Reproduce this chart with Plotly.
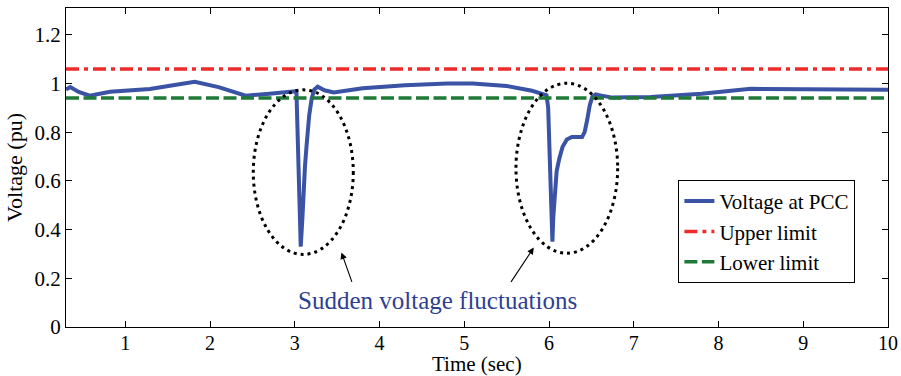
import plotly.graph_objects as go

# Time axis (sec) and voltage at PCC (pu)
time_s = [0.3, 0.35, 0.45, 0.58, 0.82, 1.29, 1.6, 1.82, 2.1, 2.42, 2.7, 3.0, 3.02, 3.04, 3.06, 3.07,
          3.09, 3.1, 3.12, 3.14, 3.17, 3.2, 3.23, 3.27, 3.35, 3.46, 3.8, 4.3, 4.8, 5.1, 5.5, 5.8, 5.97,
          5.99, 6.01, 6.03, 6.04, 6.05, 6.07, 6.09, 6.12, 6.16, 6.21, 6.27, 6.39, 6.42, 6.45, 6.48,
          6.51, 6.55, 6.62, 6.75, 7.2, 7.8, 8.38, 8.93, 8.96, 10.0]
voltage_pu = [0.975, 0.985, 0.965, 0.95, 0.966, 0.977, 0.995, 1.007, 0.985, 0.95, 0.958, 0.968, 0.96, 0.70, 0.42, 0.33,
              0.45, 0.54, 0.66, 0.75, 0.87, 0.94, 0.975, 0.987, 0.972, 0.963, 0.98, 0.993, 1.0, 1.0, 0.99, 0.97, 0.952,
              0.90, 0.65, 0.42, 0.35, 0.45, 0.57, 0.64, 0.69, 0.74, 0.77, 0.78, 0.78, 0.80, 0.85, 0.91,
              0.945, 0.955, 0.95, 0.942, 0.945, 0.958, 0.978, 0.978, 0.974, 0.974]

limit_x = [0.3, 10.0]
upper_limit = [1.06, 1.06]
lower_limit = [0.94, 0.94]

x_ticks = [1, 2, 3, 4, 5, 6, 7, 8, 9, 10]
y_ticks = [0, 0.2, 0.4, 0.6, 0.8, 1.0, 1.2]
y_tick_labels = ["0", "0.2", "0.4", "0.6", "0.8", "1", "1.2"]

# Ellipses marking the fluctuations (centre x, centre y, half-width, half-height)
ellipses = [(3.10, 0.636, 0.59, 0.338), (6.21, 0.652, 0.60, 0.349)]
annotation_text = "Sudden voltage fluctuations"
x_title = "Time (sec)"

FONT = "Liberation Serif, Times New Roman, serif"

fig = go.Figure()
fig.add_trace(go.Scatter(x=time_s, y=voltage_pu, mode="lines", name="Voltage at PCC",
                         line=dict(color="#3A53A4", width=4)))
fig.add_trace(go.Scatter(x=limit_x, y=upper_limit, mode="lines", name="Upper limit",
                         line=dict(color="#EE2B2B", width=3.5, dash="13px,5px,4px,5px")))
fig.add_trace(go.Scatter(x=limit_x, y=lower_limit, mode="lines", name="Lower limit",
                         line=dict(color="#1F7A38", width=3.5, dash="13px,4.5px")))

for cx, cy, hw, hh in ellipses:
    fig.add_shape(type="circle", xref="x", yref="y", x0=cx - hw, x1=cx + hw, y0=cy - hh, y1=cy + hh,
                  line=dict(color="black", width=3, dash="3px,4px"))

fig.add_annotation(x=4.68, y=0.11, xref="x", yref="y", text=annotation_text, showarrow=False,
                   font=dict(family=FONT, size=25, color="#2E3F94"))
fig.add_annotation(x=3.55, y=0.306, ax=3.68, ay=0.179, xref="x", yref="y", axref="x", ayref="y",
                   text="", showarrow=True, arrowhead=2, arrowsize=1.2, arrowwidth=1.1, arrowcolor="black")
fig.add_annotation(x=5.82, y=0.326, ax=5.54, ay=0.179, xref="x", yref="y", axref="x", ayref="y",
                   text="", showarrow=True, arrowhead=2, arrowsize=1.2, arrowwidth=1.1, arrowcolor="black")
# x-axis title, placed at the bottom edge of the canvas
fig.add_annotation(x=0.5, y=-49 / 319, xref="paper", yref="paper", xanchor="center", yanchor="bottom",
                   text=x_title, showarrow=False, borderpad=0, yshift=-1,
                   font=dict(family=FONT, size=21, color="black"))

axis_common = dict(showline=True, linecolor="black", linewidth=1.3, mirror="allticks", ticks="inside",
                   ticklen=6, tickcolor="black", tickwidth=1, showgrid=False, zeroline=False,
                   automargin=False)
fig.update_xaxes(range=[0.3, 10], tickvals=x_ticks, ticklabelstandoff=-2,
                 tickfont=dict(family=FONT, size=20, color="black"),
                 **axis_common)
fig.update_yaxes(range=[0, 1.31], tickvals=y_ticks, ticktext=y_tick_labels,
                 tickfont=dict(family=FONT, size=21, color="black"),
                 title=dict(text="Voltage (pu)", font=dict(family=FONT, size=22, color="black"), standoff=5),
                 **axis_common)

fig.update_layout(
    width=901, height=376,
    margin=dict(l=66, r=13, t=8, b=49, autoexpand=False),
    paper_bgcolor="white", plot_bgcolor="white",
    font=dict(family=FONT, color="black"),
    legend=dict(x=0.745, y=0.461, xanchor="left", yanchor="top", bgcolor="white",
                bordercolor="black", borderwidth=1, font=dict(family=FONT, size=21, color="black"),
                tracegroupgap=0, itemwidth=30),
    showlegend=True,
)

fig.write_html("out.html")
